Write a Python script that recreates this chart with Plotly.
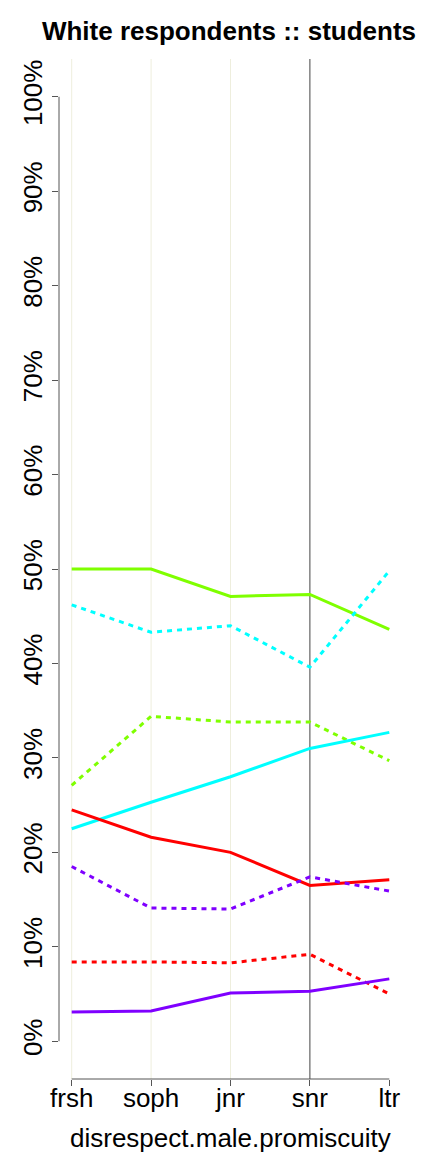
import plotly.graph_objects as go

categories = ["frsh", "soph", "jnr", "snr", "ltr"]
y_ticks = [0, 10, 20, 30, 40, 50, 60, 70, 80, 90, 100]
y_tick_labels = [f"{v}%" for v in y_ticks]

green_solid = [50.0, 50.0, 47.1, 47.3, 43.6]
green_dotted = [27.1, 34.4, 33.8, 33.8, 29.7]
cyan_solid = [22.5, 25.3, 28.0, 31.0, 32.7]
cyan_dotted = [46.2, 43.3, 44.0, 39.6, 49.8]
red_solid = [24.5, 21.6, 20.0, 16.5, 17.1]
red_dotted = [8.4, 8.4, 8.3, 9.2, 5.0]
purple_solid = [3.1, 3.2, 5.1, 5.3, 6.6]
purple_dotted = [18.5, 14.1, 14.0, 17.4, 15.9]

series = [
    ("green solid", green_solid, "#7FFF00", "solid"),
    ("green dotted", green_dotted, "#7FFF00", "dot"),
    ("cyan solid", cyan_solid, "#00FFFF", "solid"),
    ("cyan dotted", cyan_dotted, "#00FFFF", "dot"),
    ("red solid", red_solid, "#FF0000", "solid"),
    ("red dotted", red_dotted, "#FF0000", "dot"),
    ("purple solid", purple_solid, "#7F00FF", "solid"),
    ("purple dotted", purple_dotted, "#7F00FF", "dot"),
]

xs = list(range(len(categories)))
fig = go.Figure()
for name, vals, color, dash in series:
    fig.add_trace(go.Scatter(
        x=xs, y=vals, mode="lines", name=name,
        line=dict(color=color, width=3, dash="5px,5px" if dash == "dot" else "solid"),
        showlegend=False,
    ))

shapes = []
for i in range(3):
    shapes.append(dict(type="line", xref="x", yref="paper", x0=i, x1=i, y0=0, y1=1,
                       line=dict(color="#EEEEDD", width=1), layer="below"))
shapes.append(dict(type="line", xref="x", yref="paper", x0=3, x1=3, y0=0, y1=1,
                   line=dict(color="#444444", width=1), layer="below"))
shapes.append(dict(type="line", xref="paper", yref="y", x0=0, x1=0, y0=0, y1=100,
                   line=dict(color="#555555", width=1)))
shapes.append(dict(type="line", xref="x", yref="paper", x0=0, x1=4, y0=0, y1=0,
                   line=dict(color="#555555", width=1)))

fig.update_layout(
    width=432, height=1152,
    margin=dict(l=59, r=30, t=59, b=73, autoexpand=False),
    paper_bgcolor="white", plot_bgcolor="white",
    font=dict(family="Liberation Sans, Arial, sans-serif", color="black", size=26),
    title=dict(text="<b>White respondents :: students</b>", x=229 / 432, xanchor="center",
               y=1 - 31 / 1152, yanchor="middle", font=dict(size=26)),
    shapes=shapes,
    xaxis=dict(range=[-0.16, 4.16], tickmode="array", tickvals=xs, ticktext=categories,
               showgrid=False, zeroline=False, showline=False, ticks="outside",
               ticklen=6, tickcolor="#555555", tickfont=dict(size=26), automargin=False,
               ticklabelstandoff=-10),
    yaxis=dict(range=[-4, 104], tickmode="array", tickvals=y_ticks, ticktext=y_tick_labels,
               showgrid=False, zeroline=False, showline=False, ticks="outside",
               ticklen=6, tickcolor="#555555", tickangle=-90, tickfont=dict(size=26),
               automargin=False),
    annotations=[dict(text="disrespect.male.promiscuity", xref="paper", yref="paper",
                      x=0.5, y=-(1138 - 1079) / (1152 - 59 - 73), xanchor="center",
                      yanchor="middle", showarrow=False, font=dict(size=26))],
)

fig.write_html("out.html", config={"displayModeBar": False},
               post_script="document.body.style.margin='0';document.body.style.padding='0';")
